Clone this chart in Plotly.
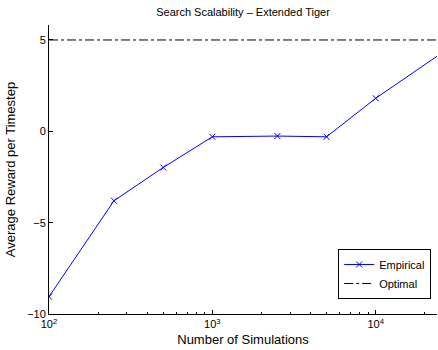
import plotly.graph_objects as go

sims = [100, 250, 500, 1000, 2500, 5000, 10000, 25000]
reward = [-9.05, -3.8, -1.98, -0.30, -0.26, -0.30, 1.81, 4.25]
optimal_x = [100, 25000]
optimal_y = [5, 5]
ytick_vals = [-10, -5, 0, 5]
ytick_text = ["\u221210", "\u22125", "0", "5"]
xtick_vals = [100, 1000, 10000]
xtick_text = ["10<sup>2</sup>", "10<sup>3</sup>", "10<sup>4</sup>"]
minor_vals = [200, 300, 400, 500, 600, 700, 800, 900,
              2000, 3000, 4000, 5000, 6000, 7000, 8000, 9000, 20000]

fig = go.Figure()
fig.add_trace(go.Scatter(
    x=sims, y=reward, mode="lines+markers", name="Empirical",
    line=dict(color="rgb(0,0,255)", width=1),
    marker=dict(symbol="x-thin", size=6, line=dict(color="rgb(0,0,255)", width=1)),
))
fig.add_trace(go.Scatter(
    x=optimal_x, y=optimal_y, mode="lines", name="Optimal",
    line=dict(color="black", width=1, dash="dashdot"),
))

font = "Liberation Sans, Arial, sans-serif"
fig.update_layout(
    width=438, height=350,
    margin=dict(l=49, r=1, t=25, b=36),
    paper_bgcolor="white", plot_bgcolor="white",
    font=dict(family=font, size=11, color="black"),
    title=dict(text="Search Scalability \u2013 Extended Tiger", x=0.5, xref="paper",
               y=1 - 12 / 350, yanchor="middle", font=dict(size=11)),
    showlegend=True,
    legend=dict(x=0.985, y=0.052, xanchor="right", yanchor="bottom",
                bgcolor="white", bordercolor="black", borderwidth=1,
                font=dict(size=11), tracegroupgap=0,
                itemwidth=30),
)
fig.update_xaxes(
    type="log", range=[2, 4.375],
    tickmode="array", tickvals=xtick_vals, ticktext=xtick_text,
    ticks="inside", ticklen=4, tickcolor="black",
    showline=True, linecolor="black", linewidth=1,
    showgrid=False, zeroline=False,
    minor=dict(tickmode="array", tickvals=minor_vals, ticks="inside",
               ticklen=2, tickcolor="black", showgrid=False),
    title=dict(text="Number of Simulations", standoff=5),
)
fig.update_yaxes(
    range=[-10, 5.82],
    tickmode="array", tickvals=ytick_vals, ticktext=ytick_text,
    ticks="inside", ticklen=4, tickcolor="black",
    showline=True, linecolor="black", linewidth=1,
    showgrid=False, zeroline=False,
    title=dict(text="Average Reward per Timestep", standoff=8),
)
fig.write_html("out.html")
